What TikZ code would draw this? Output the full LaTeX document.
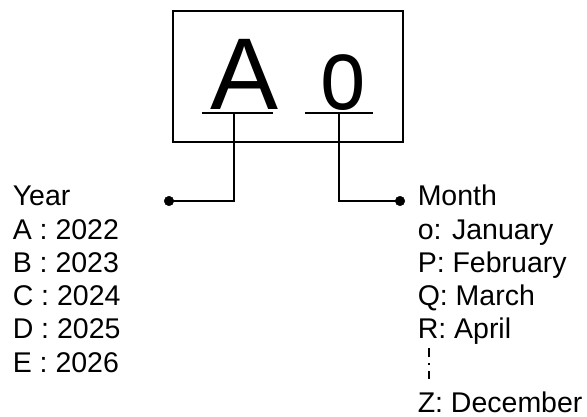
\documentclass[tikz,border=0pt]{standalone}
\usepackage{fontspec}
\setmainfont{Liberation Sans}
\usetikzlibrary{positioning}

\begin{document}
\begin{tikzpicture}[x=1pt, y=-1pt, line width=1.5pt,
   big/.style={font=\fontsize{102}{102}\selectfont, inner sep=0pt, anchor=base},
   entry/.style={font=\fontsize{28.5}{33}\selectfont, inner sep=0pt, anchor=base west},
   enddot/.style={shape=circle, fill=black, draw=black, line width=0.5pt, inner sep=0pt, minimum width=9.5pt, minimum height=9.5pt}]
\useasboundingbox (0,0) rectangle (587,417);
% code box
\node[draw, minimum width=230pt, minimum height=131pt, inner sep=0pt] (box) at (288,76.5) {};
\node[big] (year) at (244.5,110) {A};
\node[big, xscale=0.8] (month) at (343,110) {o};
\draw (202,113) coordinate (yl) -- (273,113) coordinate (yr);
\draw (305,113) coordinate (ml) -- (373,113) coordinate (mr);
\coordinate (ytap) at (234,113);
\coordinate (mtap) at (339,113);
% dots and leaders
\draw (ytap) |- (169,201) node[enddot] (ydot) {};
\draw (mtap) |- (400,201) node[enddot] (mdot) {};
% year list
\node[entry] (y0) at (12,206) {Year};
\node[entry] (y1) at (12,239.2) {A : 2022};
\node[entry] (y2) at (12,272.4) {B : 2023};
\node[entry] (y3) at (12,305.6) {C : 2024};
\node[entry] (y4) at (12,338.8) {D : 2025};
\node[entry] (y5) at (12,372) {E : 2026};
% month list
\node[entry] (m0) at (417,206) {Month};
\node[entry] (m1) at (417,239.2) {o: January};
\node[entry] (m2) at (417,272.4) {P: February};
\node[entry] (m3) at (417,305.6) {Q: March};
\node[entry] (m4) at (417,338.8) {R: April};
\node[entry] (m5) at (417,412) {Z: December};
\draw[line width=2pt, dash pattern=on 9pt off 6pt on 2pt off 6pt on 9pt] (429,348) -- (429,379);
\end{tikzpicture}
\end{document}
